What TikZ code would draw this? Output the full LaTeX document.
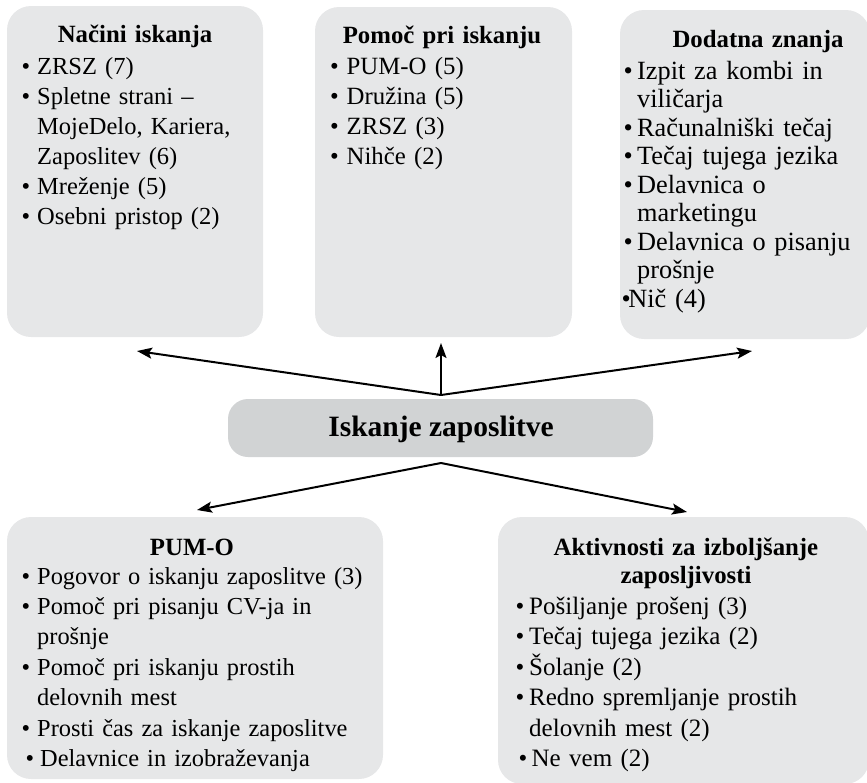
\documentclass[tikz,border=0pt]{standalone}
\usepackage{fontspec}
\setmainfont{Liberation Serif}
\usetikzlibrary{arrows.meta}
\definecolor{boxgray}{HTML}{E6E7E8}
\definecolor{hubgray}{HTML}{D1D3D4}
\newcommand{\bu}[1][15.5pt]{\makebox[#1][l]{\textbullet}}
\newcommand{\cont}[1][15.5pt]{\hspace*{#1}}
\begin{document}
\begin{tikzpicture}[x=1pt,y=-1pt,
  panel/.style={fill=boxgray, rounded corners=24pt, draw=none, inner sep=0pt},
  hub/.style={fill=hubgray, rounded corners=20pt, draw=none, inner sep=0pt},
  ttl/.style={font=\fontsize{24.8}{28.5}\selectfont\bfseries, inner sep=0pt, anchor=base, text width=320pt, align=center},
  lst/.style={inner sep=0pt, anchor=base west, text width=420pt, align=left},
  arr/.style={line width=2pt, -{Stealth[length=15pt,width=11pt,inset=3pt]}}]
\useasboundingbox (0,0) rectangle (867,782);
% panels
\node[panel, minimum width=256pt, minimum height=331pt] (b1) at (135,171.5) {};
\node[panel, minimum width=257pt, minimum height=330pt] (b2) at (443.5,172) {};
\node[panel, minimum width=250pt, minimum height=329pt] (b3) at (745,174.5) {};
\node[hub, minimum width=425pt, minimum height=58pt] (hub) at (440.5,428) {};
\node[panel, minimum width=376pt, minimum height=262pt] (b4) at (195,648) {};
\node[panel, minimum width=371pt, minimum height=267pt] (b5) at (683.5,650.5) {};
% titles
\node[ttl] (t1) at (135,42) {Načini iskanja};
\node[ttl] (t2) at (442,43) {Pomoč pri iskanju};
\node[ttl] (t3) at (758,47) {Dodatna znanja};
\node[ttl] (t4) at (192,555) {PUM-O};
\node[ttl] (t5) at (686,555) {Aktivnosti za izboljšanje\\zaposljivosti};
\node[inner sep=0pt, anchor=base, font=\fontsize{29.5}{34}\selectfont\bfseries] (th) at (441,436) {Iskanje zaposlitve};
% lists
\node[lst, font=\fontsize{24.5}{30}\selectfont] (l1) at (21.5,74) {%
\bu ZRSZ (7)\\
\bu Spletne strani –\\
\cont MojeDelo, Kariera,\\
\cont Zaposlitev (6)\\
\bu Mreženje (5)\\
\bu Osebni pristop (2)};
\node[lst, font=\fontsize{24.8}{30}\selectfont] (l2) at (330,74) {%
\bu[16.5pt]PUM-O (5)\\
\bu[16.5pt]Družina (5)\\
\bu[16.5pt]ZRSZ (3)\\
\bu[16.5pt]Nihče (2)};
\node[lst, font=\fontsize{26.3}{28.5}\selectfont] (l3) at (623.5,79) {%
\bu[13.5pt]Izpit za kombi in\\
\cont[13.5pt]viličarja\\
\bu[13.5pt]Računalniški tečaj\\
\bu[13.5pt]Tečaj tujega jezika\\
\bu[13.5pt]Delavnica o\\
\cont[13.5pt]marketingu\\
\bu[13.5pt]Delavnica o pisanju\\
\cont[13.5pt]prošnje\\
\hspace*{-2pt}\textbullet\hspace{-2.5pt}Nič (4)};
\node[lst, font=\fontsize{24.4}{30.4}\selectfont] (l4) at (21.5,584) {%
\bu Pogovor o iskanju zaposlitve (3)\\
\bu Pomoč pri pisanju CV-ja in\\
\cont prošnje\\
\bu Pomoč pri iskanju prostih\\
\cont delovnih mest\\
\bu Prosti čas za iskanje zaposlitve\\
\hspace*{4pt}\bu[14.5pt]Delavnice in izobraževanja};
\node[lst, font=\fontsize{25}{30.5}\selectfont] (l5) at (515.5,614) {%
\bu[13.5pt]Pošiljanje prošenj (3)\\
\bu[13.5pt]Tečaj tujega jezika (2)\\
\bu[13.5pt]Šolanje (2)\\
\bu[13.5pt]Redno spremljanje prostih\\
\cont[13.5pt]delovnih mest (2)\\
\hspace*{3pt}\bu[13pt]Ne vem (2)};
% connectors
\coordinate (jt) at (441,395);
\coordinate (jb) at (441,463);
\coordinate (tl) at (137,351);
\coordinate (tm) at (441,343);
\coordinate (tr) at (752,351);
\coordinate (bl) at (197,510);
\coordinate (br) at (687,512);
\draw[arr] (jt) -- (tl);
\draw[arr] (jt) -- (tm);
\draw[arr] (jt) -- (tr);
\draw[arr] (jb) -- (bl);
\draw[arr] (jb) -- (br);
\end{tikzpicture}
\end{document}
